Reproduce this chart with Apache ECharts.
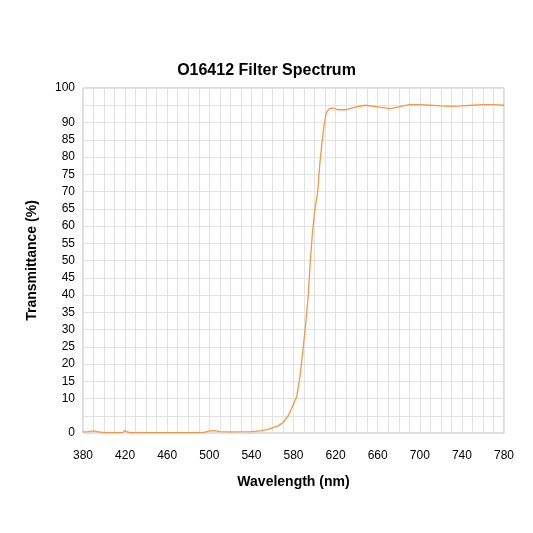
<!DOCTYPE html><html><head><script src="https://cdn.jsdelivr.net/npm/echarts@6/dist/echarts.min.js"></script></head><body style="margin:0"><div id="c" style="width:533px;height:533px"></div><script>
const wavelengths=[380,385,390,395,400,410,418,420,422,425,440,460,480,495,500,505,510,520,540,550,555,560,565,570,575,578,583,586,589,592,594,596,598,600,603,605,607,609,611,614,618,622,630,640,648,660,672,680,690,700,710,720,730,740,750,760,770,780];
const transmittance=[0.3,0.4,0.6,0.3,0.1,0.1,0.2,0.7,0.3,0.1,0.1,0.1,0.1,0.2,0.6,0.7,0.4,0.3,0.4,0.7,1.0,1.5,2.0,3.0,5.0,7.0,10.5,16,24,33,40,50,58,64,70,78,84,89,92.7,94.0,94.2,93.7,93.7,94.5,95.0,94.5,94.0,94.5,95.2,95.2,95.0,94.8,94.7,94.8,95.0,95.2,95.2,95.0];
const xTicks={min:380,max:780,interval:40};
const yTicks={min:0,max:100,interval:5};
const ch=echarts.init(document.getElementById('c'));
const F='Liberation Sans, Arial, sans-serif';
ch.setOption({
title:{text:'O16412 Filter Spectrum',left:'center',top:52,textStyle:{fontFamily:F,fontSize:16,fontWeight:'bold',color:'#000'}},
grid:{left:83,right:29,top:88,bottom:100,show:true,borderColor:'#bbb',borderWidth:1},
xAxis:{type:'value',min:xTicks.min,max:xTicks.max,interval:xTicks.interval,name:'Wavelength (nm)',nameLocation:'middle',nameGap:33,
nameTextStyle:{fontFamily:F,fontSize:14,fontWeight:'bold',color:'#000'},
axisLine:{show:false},axisTick:{show:false},axisLabel:{fontFamily:F,fontSize:12,color:'#000',margin:12,showMinLabel:true,showMaxLabel:true},
splitLine:{lineStyle:{color:'#e2e2e2'}},minorTick:{show:false,splitNumber:4},minorSplitLine:{show:true,lineStyle:{color:'#e2e2e2'}}},
yAxis:{type:'value',min:yTicks.min,max:yTicks.max,interval:yTicks.interval,name:'Transmittance (%)',nameLocation:'middle',nameGap:35,
nameTextStyle:{fontFamily:F,fontSize:14,fontWeight:'bold',color:'#000'},
axisLine:{show:false},axisTick:{show:false},axisLabel:{fontFamily:F,fontSize:12,color:'#000',showMinLabel:true,showMaxLabel:true},
splitLine:{lineStyle:{color:'#e2e2e2'}}},
series:[{type:'line',data:wavelengths.map((w,i)=>[w,transmittance[i]]),showSymbol:false,smooth:false,lineStyle:{color:'#f79646',width:1.3}}]
});
</script></body></html>
